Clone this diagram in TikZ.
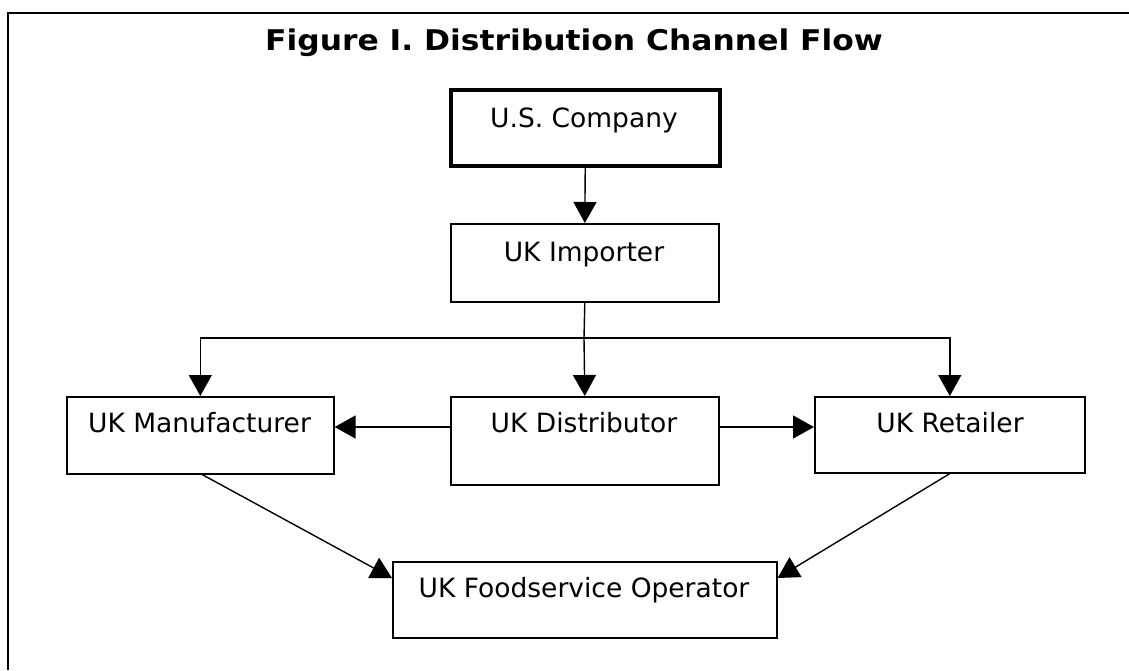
\documentclass[tikz,border=0pt]{standalone}
\usepackage{fontspec}
\setmainfont{DejaVu Sans}
\newfontfamily\titlefont{DejaVu Sans}[BoldFont={DejaVu Sans Bold}]
\usetikzlibrary{arrows.meta}
\begin{document}
\begin{tikzpicture}[x=1pt,y=-1pt,
  box/.style={draw=black, line width=1.6pt, fill=none, inner sep=0pt, anchor=north west},
  thickbox/.style={box, line width=3.5pt},
  lbl/.style={anchor=base, inner sep=0pt, font=\fontsize{26.5}{30}\selectfont},
  arr/.style={line width=1.4pt, -{Triangle[length=21pt,width=23pt]}},
  ln/.style={line width=1.4pt}]
\useasboundingbox (0,0) rectangle (1129,670);
\fill[white] (0,0) rectangle (1129,670);
% frame
\draw[line width=2pt] (8,670) -- (8,12.5) -- (1129,12.5);
% title
\node[anchor=base, inner sep=0pt, xscale=1.1,
      font=\titlefont\bfseries\fontsize{28.5}{32}\selectfont] (title) at (574,50)
      {Figure I. Distribution Channel Flow};
% boxes
\node[thickbox, minimum width=269pt, minimum height=76pt] (usc) at (449,88) {};
\node[box, minimum width=268pt, minimum height=78pt] (imp) at (450,223) {};
\node[box, minimum width=267pt, minimum height=77pt] (man) at (66,396) {};
\node[box, minimum width=268pt, minimum height=88pt] (dis) at (450,396) {};
\node[box, minimum width=270pt, minimum height=76pt] (ret) at (814,396) {};
\node[box, minimum width=384pt, minimum height=76pt] (food) at (392,561) {};
% labels
\node[lbl] (uscT)  at (584,127) {U.S. Company};
\node[lbl] (impT)  at (584,261) {UK Importer};
\node[lbl] (manT)  at (199.5,432) {UK Manufacturer};
\node[lbl] (disT)  at (584,432) {UK Distributor};
\node[lbl] (retT)  at (950,432) {UK Retailer};
\node[lbl] (foodT) at (584,597) {UK Foodservice Operator};
% connectors
\draw[arr] (usc.south) -- (imp.north);
\coordinate (split) at (584,338);
\draw[ln] (imp.south) -- (split);
\draw[arr] (split) -| (man.north);
\draw[arr] (split) -- (dis.north);
\draw[arr] (split) -| (ret.north);
\coordinate (hlev) at (0,427);
\draw[arr] (dis.west |- hlev) -- (man.east |- hlev);
\draw[arr] (dis.east |- hlev) -- (ret.west |- hlev);
\draw[arr] ([xshift=2pt]man.south) -- ([yshift=-17pt]food.north west);
\draw[arr] (ret.south) -- ([yshift=-17pt]food.north east);
\end{tikzpicture}
\end{document}
